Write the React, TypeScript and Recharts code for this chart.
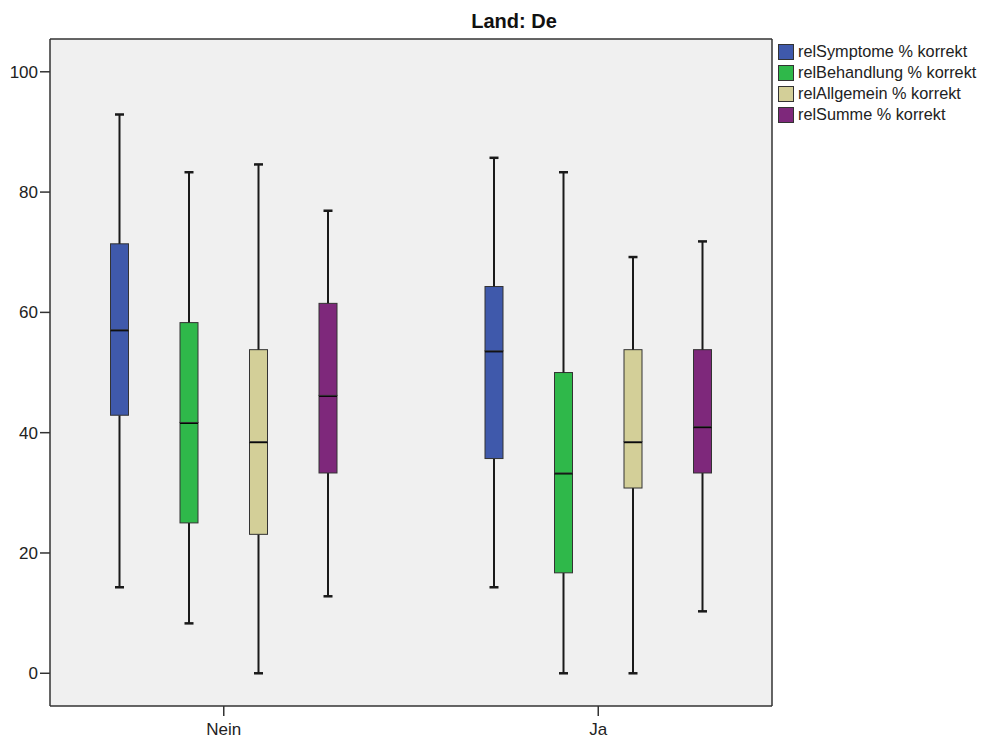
import React from "react"
import { ComposedChart, Bar, XAxis, YAxis, CartesianGrid, Legend } from "recharts"

const groups = ["Nein", "Ja"]
const seriesNames = [
  "relSymptome % korrekt",
  "relBehandlung % korrekt",
  "relAllgemein % korrekt",
  "relSumme % korrekt",
]
const seriesColors = ["#3f59ab", "#2fb84a", "#d3cf98", "#7e287b"]

// [min, q1, median, q3, max] per group (Nein, Ja)
const symptome = [
  [14.3, 42.9, 57.1, 71.4, 92.9],
  [14.3, 35.7, 53.6, 64.3, 85.7],
]
const behandlung = [
  [8.3, 25.0, 41.7, 58.3, 83.3],
  [0, 16.7, 33.3, 50.0, 83.3],
]
const allgemein = [
  [0, 23.1, 38.5, 53.8, 84.6],
  [0, 30.8, 38.5, 53.8, 69.2],
]
const summe = [
  [12.8, 33.3, 46.2, 61.5, 76.9],
  [10.3, 33.3, 41.0, 53.8, 71.8],
]
const yTicks = [0, 20, 40, 60, 80, 100]

const allSeries = [symptome, behandlung, allgemein, summe]

const data = groups.map((g, gi) => {
  const row: Record<string, any> = { name: g }
  allSeries.forEach((s, si) => {
    const [mn, q1, md, q3, mx] = s[gi]
    row[`s${si}base`] = mn
    row[`s${si}lw`] = q1 - mn
    row[`s${si}lb`] = md - q1
    row[`s${si}ub`] = q3 - md
    row[`s${si}uw`] = mx - q3
  })
  return row
})

const LINE = "#1a1a1a"
const FRAME = "#333"
const CAP = 9

const Empty = () => <g />

const LowerWhisker = (p: any) => {
  const cx = p.x + p.width / 2
  const bottom = p.y + p.height
  return (
    <g>
      <line x1={cx} x2={cx} y1={p.y} y2={bottom} stroke={LINE} strokeWidth={2} />
      <line x1={cx - CAP / 2} x2={cx + CAP / 2} y1={bottom} y2={bottom} stroke={LINE} strokeWidth={2.5} />
    </g>
  )
}

const UpperWhisker = (p: any) => {
  const cx = p.x + p.width / 2
  return (
    <g>
      <line x1={cx} x2={cx} y1={p.y} y2={p.y + p.height} stroke={LINE} strokeWidth={2} />
      <line x1={cx - CAP / 2} x2={cx + CAP / 2} y1={p.y} y2={p.y} stroke={LINE} strokeWidth={2.5} />
    </g>
  )
}

const BoxUpper = (p: any) => (
  <rect x={p.x} y={p.y} width={p.width} height={p.height} fill={p.fill} stroke="#333" strokeWidth={1} />
)

// lower half of the box, median line on its top edge
const BoxLower = (p: any) => (
  <g>
    <rect x={p.x} y={p.y} width={p.width} height={p.height} fill={p.fill} stroke="#333" strokeWidth={1} />
    <line x1={p.x} x2={p.x + p.width} y1={p.y} y2={p.y} stroke="#000" strokeWidth={3} />
  </g>
)

const LegendContent = () => (
  <div style={{ paddingLeft: 5, paddingTop: 3 }}>
    {seriesNames.map((n, i) => (
      <div key={n} style={{ display: "flex", alignItems: "center", height: 21 }}>
        <span
          style={{
            display: "inline-block",
            width: 16,
            height: 16,
            boxSizing: "border-box",
            border: "1.5px solid #333",
            background: seriesColors[i],
            marginRight: 4,
          }}
        />
        <span style={{ fontFamily: "Liberation Sans, Arial, sans-serif", fontSize: 16.3, color: "#222", whiteSpace: "nowrap" }}>
          {n}
        </span>
      </div>
    ))}
  </div>
)

export default function App() {
  return (
    <div style={{ position: "absolute", left: 0, top: 0, width: 995, height: 740, background: "#fff" }}>
      <div
        style={{
          position: "absolute",
          left: 414,
          top: 11,
          width: 200,
          textAlign: "center",
          fontFamily: "Liberation Sans, Arial, sans-serif",
          fontWeight: "bold",
          fontSize: 20,
          lineHeight: "20px",
          color: "#111",
        }}
      >
        Land: De
      </div>
      <ComposedChart
        width={995}
        height={740}
        data={data}
        margin={{ top: 38, right: 3, bottom: 0, left: 0 }}
        barGap={51.5}
      >
        <CartesianGrid fill="#f0f0f0" horizontal={false} vertical={false} />
        <XAxis
          dataKey="name"
          type="category"
          height={34}
          padding={{ left: -13.5, right: -13.5 }}
          tickSize={10}
          tickMargin={7}
          axisLine={{ stroke: FRAME, strokeWidth: 1.5 }}
          tickLine={{ stroke: FRAME, strokeWidth: 1.5 }}
          tick={{ fill: "#222", fontSize: 17, fontFamily: "Liberation Sans, Arial, sans-serif" }}
        />
        <XAxis
          xAxisId="top"
          dataKey="name"
          orientation="top"
          height={1}
          tick={false}
          tickLine={false}
          axisLine={{ stroke: FRAME, strokeWidth: 1.5 }}
        />
        <YAxis
          type="number"
          width={50}
          domain={[-5.44, 105.45]}
          ticks={yTicks}
          allowDataOverflow
          tickSize={10}
          tickMargin={2}
          axisLine={{ stroke: FRAME, strokeWidth: 1.5 }}
          tickLine={{ stroke: FRAME, strokeWidth: 1.5 }}
          tick={{ fill: "#222", fontSize: 17, fontFamily: "Liberation Sans, Arial, sans-serif" }}
        />
        <YAxis
          yAxisId="right"
          orientation="right"
          type="number"
          domain={[0, 1]}
          width={1}
          tick={false}
          tickLine={false}
          axisLine={{ stroke: FRAME, strokeWidth: 1.5 }}
        />
        <Legend
          layout="vertical"
          align="right"
          verticalAlign="top"
          content={LegendContent}
          wrapperStyle={{ width: 219 }}
        />
        {allSeries.map((_, si) => [
          <Bar key={`b${si}`} dataKey={`s${si}base`} stackId={`s${si}`} barSize={18} fill={seriesColors[si]} shape={Empty} isAnimationActive={false} legendType="none" />,
          <Bar key={`lw${si}`} dataKey={`s${si}lw`} stackId={`s${si}`} barSize={18} fill={seriesColors[si]} shape={LowerWhisker} isAnimationActive={false} legendType="none" />,
          <Bar key={`lb${si}`} dataKey={`s${si}lb`} stackId={`s${si}`} barSize={18} fill={seriesColors[si]} shape={BoxLower} isAnimationActive={false} legendType="none" />,
          <Bar key={`ub${si}`} dataKey={`s${si}ub`} stackId={`s${si}`} barSize={18} fill={seriesColors[si]} shape={BoxUpper} isAnimationActive={false} legendType="none" />,
          <Bar key={`uw${si}`} dataKey={`s${si}uw`} stackId={`s${si}`} barSize={18} fill={seriesColors[si]} shape={UpperWhisker} isAnimationActive={false} legendType="none" />,
        ])}
      </ComposedChart>
    </div>
  )
}
